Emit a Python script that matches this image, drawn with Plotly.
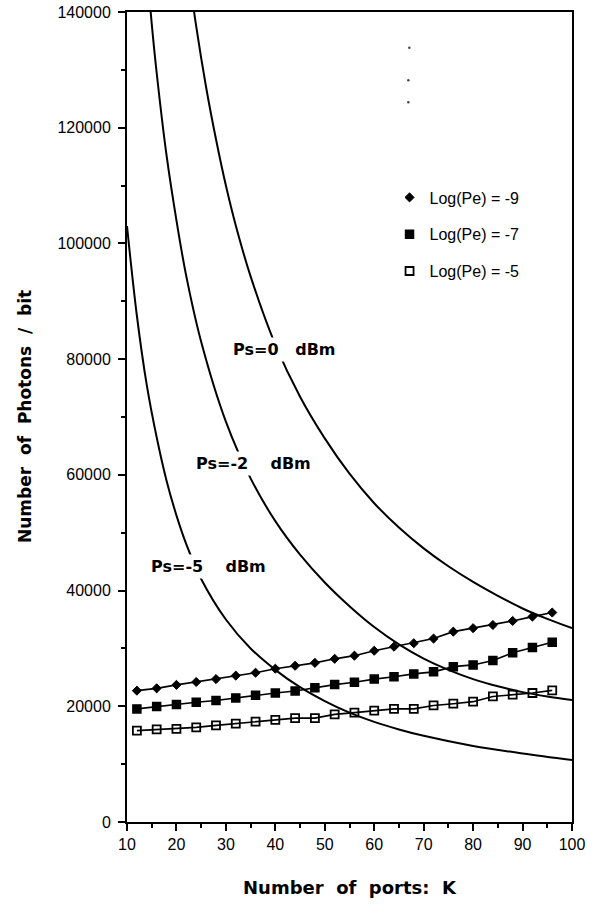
import plotly.graph_objects as go

# ---- data ----
ports = [12, 16, 20, 24, 28, 32, 36, 40, 44, 48, 52, 56, 60, 64, 68, 72, 76, 80, 84, 88, 92, 96]
pe9 = [22700, 23100, 23700, 24200, 24700, 25300, 25800, 26500, 27000, 27500, 28200, 28750,
       29600, 30300, 30900, 31700, 32900, 33500, 34050, 34750, 35500, 36200]
pe7 = [19550, 19950, 20300, 20700, 21000, 21450, 21900, 22300, 22650, 23200, 23750, 24150,
       24700, 25100, 25600, 25950, 26850, 27150, 27900, 29250, 30150, 31050]
pe5 = [15800, 16000, 16100, 16350, 16700, 17000, 17350, 17650, 17950, 17950, 18600, 18900,
       19250, 19550, 19550, 20150, 20450, 20800, 21700, 22000, 22300, 22750]

ps0_k = [22, 24, 26, 28, 30, 32, 35, 40, 45, 50, 55, 60, 65, 70, 75, 80, 85, 90, 95, 100]
ps0_n = [150000, 137500, 127000, 118000, 110000, 103100, 94300, 82500, 73500, 66300, 60200,
         55100, 50900, 47300, 44200, 41500, 39100, 36900, 35100, 33500]
ps2_k = [14, 15, 16, 18, 20, 22, 25, 30, 35, 40, 45, 50, 55, 60, 65, 70, 75, 80, 85, 90, 95, 100]
ps2_n = [148000, 138000, 129500, 115200, 104000, 94300, 83000, 69200, 59400, 52000, 46200,
         41400, 37300, 33700, 30700, 28250, 26300, 24700, 23450, 22450, 21700, 21100]
ps5_k = [10, 12, 14, 16, 18, 20, 22, 25, 30, 35, 40, 45, 50, 55, 60, 65, 70, 80, 90, 100]
ps5_n = [103000, 87500, 75500, 66500, 59000, 53000, 48000, 42000, 35000, 30000, 26300, 23300,
         20900, 18900, 17300, 16000, 14900, 13150, 11850, 10700]

curve_labels = ["Ps=0\u00a0\u00a0\u00a0dBm", "Ps=-2\u00a0\u00a0\u00a0\u00a0dBm", "Ps=-5\u00a0\u00a0\u00a0\u00a0dBm"]
curve_label_k = [41.8, 35.5, 26.45]
curve_label_n = [81600, 62050, 44150]

legend_names = ["Log(Pe) = -9", "Log(Pe) = -7", "Log(Pe) = -5"]

dots_k = [67.1, 66.9, 66.9]
dots_n = [133800, 128200, 124400]

x_ticks = [10, 20, 30, 40, 50, 60, 70, 80, 90, 100]
y_ticks = [0, 20000, 40000, 60000, 80000, 100000, 120000, 140000]

# ---- figure ----
fig = go.Figure()

for k, n in [(ps0_k, ps0_n), (ps2_k, ps2_n), (ps5_k, ps5_n)]:
    fig.add_trace(go.Scatter(x=k, y=n, mode="lines", showlegend=False,
                             line=dict(color="black", width=2, shape="spline", smoothing=1.0),
                             hoverinfo="skip"))

series = [
    (pe9, "diamond", "black", 7, 1.0),
    (pe7, "square", "black", 8, 1.5),
    (pe5, "square-open", "black", 8, 1.8),
]
for i, (vals, sym, col, sz, lw) in enumerate(series):
    fig.add_trace(go.Scatter(x=ports, y=vals, mode="lines", showlegend=False,
                             line=dict(color="black", width=1.6), hoverinfo="skip"))
    fig.add_trace(go.Scatter(x=ports, y=vals, mode="markers", name=legend_names[i],
                             legendgroup=f"g{i}",
                             marker=dict(symbol=sym, size=sz, color=col,
                                         line=dict(color="black", width=lw))))

fig.add_trace(go.Scatter(x=dots_k, y=dots_n, mode="markers", showlegend=False,
                         marker=dict(size=2.5, color="#444"), hoverinfo="skip"))

for t, kx, ny in zip(curve_labels, curve_label_k, curve_label_n):
    fig.add_annotation(x=kx, y=ny, text=t, showarrow=False, bgcolor="white",
                       font=dict(family="DejaVu Sans", size=16, color="black", weight="bold"),
                       xanchor="center", yanchor="middle", borderpad=2)

# axis titles
fig.add_annotation(xref="paper", yref="paper", x=0.5, y=0, yshift=-65,
                   text="Number\u00a0\u00a0of\u00a0\u00a0ports:\u00a0\u00a0K", showarrow=False,
                   xanchor="center", yanchor="middle",
                   font=dict(family="DejaVu Sans", size=18, color="black", weight="bold"))
fig.add_annotation(xref="paper", yref="paper", x=0, xshift=-102, y=0.5,
                   text="Number\u00a0\u00a0of\u00a0\u00a0Photons\u00a0\u00a0/\u00a0\u00a0bit", showarrow=False,
                   textangle=-90, xanchor="center", yanchor="middle",
                   font=dict(family="DejaVu Sans", size=17, color="black", weight="bold"))

axis_common = dict(showline=True, linecolor="black", linewidth=2, mirror=True,
                   showgrid=False, zeroline=False, ticks="outside", tickcolor="black",
                   tickwidth=1.6, ticklen=7, automargin=False,
                   tickfont=dict(family="Liberation Sans, Arial", size=16, color="black"))

fig.update_xaxes(range=[10, 100], tickvals=x_ticks,
                 minor=dict(ticks="outside", dtick=5, tick0=10, ticklen=4, tickwidth=1.6,
                            tickcolor="black", showgrid=False),
                 **axis_common)
fig.update_yaxes(range=[0, 140000], tickvals=y_ticks, tickformat="d", ticklabelstandoff=4,
                 minor=dict(ticks="outside", dtick=10000, tick0=0, ticklen=4, tickwidth=1.6,
                            tickcolor="black", showgrid=False),
                 **axis_common)

fig.update_layout(
    width=593, height=912,
    margin=dict(l=127, r=21, t=12, b=90),
    paper_bgcolor="white", plot_bgcolor="white",
    font=dict(family="Liberation Sans, Arial", color="black"),
    showlegend=True,
    legend=dict(x=0.59, y=0.792, xanchor="left", yanchor="top",
                bgcolor="rgba(0,0,0,0)", borderwidth=0,
                font=dict(family="Liberation Sans, Arial", size=16, color="black"),
                tracegroupgap=13),
)

fig.write_html("out.html")
